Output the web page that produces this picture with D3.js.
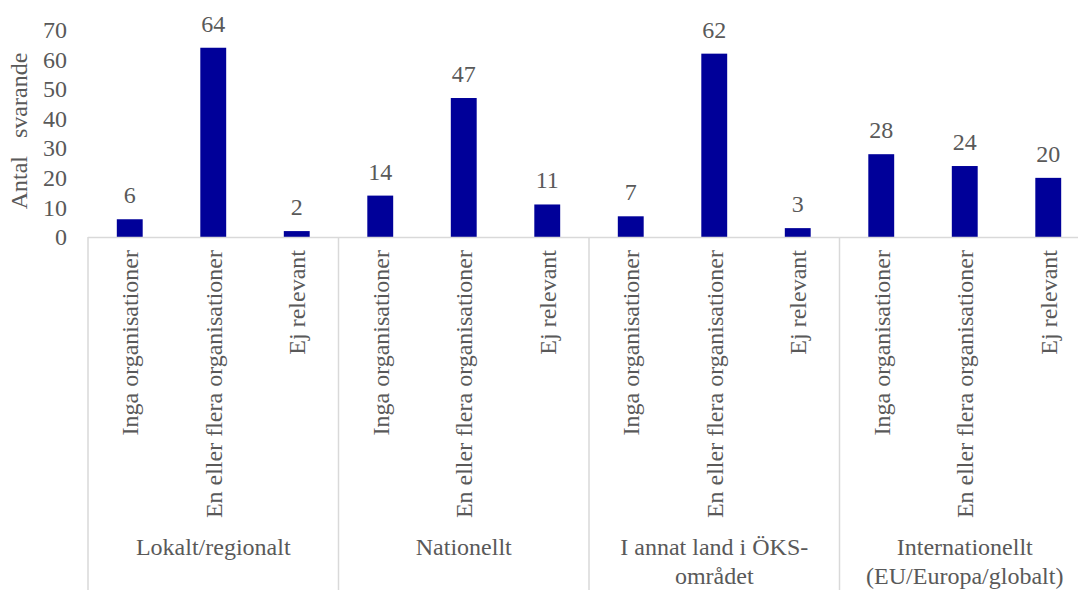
<!DOCTYPE html>
<html>
<head>
<meta charset="utf-8">
<script src="https://cdn.jsdelivr.net/npm/d3@7"></script>
</head>
<body style="margin:0;background:#fff">
<div id="chart"></div>
<script>
var groups = [
    ["Lokalt/regionalt"],
    ["Nationellt"],
    ["I annat land i ÖKS-", "området"],
    ["Internationellt", "(EU/Europa/globalt)"]
];
var answers = ["Inga organisationer", "En eller flera organisationer", "Ej relevant"];
var values = [6, 64, 2, 14, 47, 11, 7, 62, 3, 28, 24, 20];
var yTicks = [0, 10, 20, 30, 40, 50, 60, 70];

var width = 1078, height = 590;
var margin = { top: 30, left: 88, bottom: 237 };
var plotRight = 1090;
var barColor = "#000099";
var gridColor = "#d9d9d9";
var fontFam = "Liberation Serif";
var textColor = "#595959";
var fs = 24;

var rows = [];
groups.forEach(function (g, gi) {
    answers.forEach(function (a, ai) {
        rows.push({ key: gi + "-" + ai, group: gi, answer: a, value: values[gi * 3 + ai] });
    });
});

var svg = d3.select("#chart")
    .append("svg")
    .attr("width", width)
    .attr("height", height)
    .attr("font-family", fontFam);

var x = d3.scaleBand()
    .domain(rows.map(d => d.key))
    .range([margin.left, plotRight])
    .paddingInner(0.69)
    .paddingOuter(0.345);

var y = d3.scaleLinear()
    .domain([0, 70])
    .range([margin.bottom, margin.top]);

// y axis tick labels
var yAxis = svg.append("g")
    .attr("transform", "translate(67,0)")
    .call(d3.axisLeft(y).tickValues(yTicks).tickSize(0).tickPadding(0));
yAxis.attr("font-family", fontFam).attr("font-size", fs);
yAxis.select(".domain").remove();
yAxis.selectAll("text")
    .attr("font-family", fontFam)
    .attr("font-size", fs)
    .attr("fill", textColor);

// y axis title
svg.append("text")
    .attr("transform", "translate(27,131) rotate(-90)")
    .attr("text-anchor", "middle")
    .attr("font-family", fontFam)
    .attr("font-size", fs)
    .attr("fill", textColor)
    .attr("word-spacing", 12)
    .text("Antal svarande");

// bars
svg.selectAll("rect.bar")
    .data(rows)
    .enter()
    .append("rect")
    .attr("class", "bar")
    .attr("x", d => x(d.key))
    .attr("width", x.bandwidth())
    .attr("y", d => y(d.value))
    .attr("height", d => y(0) - y(d.value))
    .attr("fill", barColor);

// value labels
svg.selectAll("text.val")
    .data(rows)
    .enter()
    .append("text")
    .attr("class", "val")
    .attr("x", d => x(d.key) + x.bandwidth() / 2)
    .attr("y", d => y(d.value) - 16)
    .attr("text-anchor", "middle")
    .attr("font-family", fontFam)
    .attr("font-size", fs)
    .attr("fill", textColor)
    .text(d => d.value);

// baseline
svg.append("line")
    .attr("x1", margin.left)
    .attr("x2", plotRight)
    .attr("y1", y(0) + 0.5)
    .attr("y2", y(0) + 0.5)
    .attr("stroke", gridColor)
    .attr("stroke-width", 1.5);

// group separators
var step = (plotRight - margin.left) / groups.length;
svg.selectAll("line.sep")
    .data(d3.range(groups.length + 1))
    .enter()
    .append("line")
    .attr("class", "sep")
    .attr("x1", i => margin.left + i * step)
    .attr("x2", i => margin.left + i * step)
    .attr("y1", y(0))
    .attr("y2", height)
    .attr("stroke", gridColor)
    .attr("stroke-width", 1.5);

// category labels (rotated)
svg.selectAll("text.cat")
    .data(rows)
    .enter()
    .append("text")
    .attr("class", "cat")
    .attr("transform", d => "translate(" + (x(d.key) + x.bandwidth() / 2) + ",250) rotate(-90)")
    .attr("text-anchor", "end")
    .attr("dy", "0.35em")
    .attr("font-family", fontFam)
    .attr("font-size", fs)
    .attr("fill", textColor)
    .text(d => d.answer);

// group labels
var gl = svg.selectAll("text.grp")
    .data(groups)
    .enter()
    .append("text")
    .attr("class", "grp")
    .attr("text-anchor", "middle")
    .attr("font-family", fontFam)
    .attr("font-size", fs)
    .attr("fill", textColor);

gl.selectAll("tspan")
    .data((d, i) => d.map(line => ({ line: line, gi: i })))
    .enter()
    .append("tspan")
    .attr("x", d => margin.left + (d.gi + 0.5) * step)
    .attr("y", (d, li) => 555 + li * 29)
    .text(d => d.line);
</script>
</body>
</html>
